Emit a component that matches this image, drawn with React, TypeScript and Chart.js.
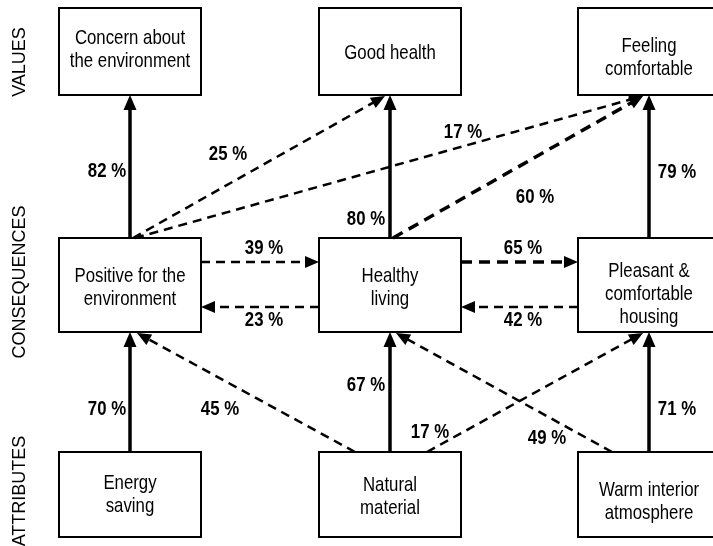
import React, { useEffect, useRef } from "react";
import { Chart, registerables } from "chart.js";

Chart.register(...registerables);

// ---- data ----
const levelLabels = ["VALUES", "CONSEQUENCES", "ATTRIBUTES"];
const nodeNames = [
  "Concern about\nthe environment",
  "Good health",
  "Feeling\ncomfortable",
  "Positive for the\nenvironment",
  "Healthy\nliving",
  "Pleasant &\ncomfortable\nhousing",
  "Energy\nsaving",
  "Natural\nmaterial",
  "Warm interior\natmosphere",
];
const nodeLevel = [0, 0, 0, 1, 1, 1, 2, 2, 2];
const nodeColumn = [0, 1, 2, 0, 1, 2, 0, 1, 2];
const edgeFrom = [3, 3, 3, 4, 4, 5, 3, 4, 4, 5, 6, 7, 7, 7, 8, 8];
const edgeTo = [0, 1, 2, 1, 2, 2, 4, 3, 5, 4, 3, 3, 4, 5, 5, 4];
const edgeValues = [82, 25, 17, 80, 60, 79, 39, 23, 65, 42, 70, 45, 67, 17, 71, 49];

// ---- layout (scale units) ----
const colCenter = [130, 390, 649];
const boxHalfW = 71;
const rowTop = [8, 238, 452];
const rowBottom = [95, 332, 537];
const levelLabelY = [62, 282, 491];
const nodeTextShift = [-4, 0, 4, 1, 1, 7, -2, 0, 5];
const edgeGeom = [
  [130, 238, 130, 95],
  [133, 238, 385, 96],
  [135, 238, 643, 96],
  [390, 238, 390, 95],
  [393, 238, 643, 96],
  [649, 238, 649, 95],
  [201, 262, 319, 262],
  [319, 307, 201, 307],
  [461, 262, 578, 262],
  [578, 307, 461, 307],
  [130, 452, 130, 332],
  [355, 452, 137, 333],
  [390, 452, 390, 332],
  [427, 452, 643, 333],
  [649, 452, 649, 332],
  [612, 452, 396, 333],
];
const edgeStyle = ["s", "d", "d", "s", "D", "s", "d", "d", "D", "d", "s", "d", "s", "d", "s", "d"];
const labelPos = [
  [107, 169.5], [228, 152], [463, 130], [366, 217], [535, 195.5], [677, 170.5],
  [264, 246], [264, 318], [523, 246], [523, 318],
  [107, 407], [220, 407], [366, 383], [430, 430], [677, 407], [547, 436],
];

const FONT = '"Liberation Sans", Arial, sans-serif';
const NARROW_X = 0.8;

function narrowText(ctx: CanvasRenderingContext2D, text: string, x: number, y: number) {
  ctx.save();
  ctx.translate(x, y);
  ctx.scale(NARROW_X, 1);
  ctx.fillText(text, 0, 0);
  ctx.restore();
}

const diagramPlugin = {
  id: "diagram",
  afterDraw(chart: any) {
    const ctx = chart.ctx as CanvasRenderingContext2D;
    const xs = chart.scales.x;
    const ys = chart.scales.y;
    const X = (v: number) => xs.getPixelForValue(v);
    const Y = (v: number) => ys.getPixelForValue(v);
    ctx.save();

    ctx.strokeStyle = "#000";
    ctx.fillStyle = "#000";
    for (let i = 0; i < nodeNames.length; i++) {
      const cx = colCenter[nodeColumn[i]];
      const t = rowTop[nodeLevel[i]];
      const b = rowBottom[nodeLevel[i]];
      ctx.lineWidth = 2;
      ctx.setLineDash([]);
      ctx.strokeRect(X(cx - boxHalfW), Y(t), X(cx + boxHalfW) - X(cx - boxHalfW), Y(b) - Y(t));
      const lines = nodeNames[i].split("\n");
      ctx.font = `21px ${FONT}`;
      ctx.textAlign = "center";
      ctx.textBaseline = "alphabetic";
      const mid = (t + b) / 2 + nodeTextShift[i];
      const lh = 23;
      lines.forEach((ln, k) => {
        const yy = mid + (k - (lines.length - 1) / 2) * lh + 7.5;
        narrowText(ctx, ln, X(cx), Y(yy));
      });
    }

    for (let i = 0; i < edgeValues.length; i++) {
      const [x1, y1, x2, y2] = edgeGeom[i];
      const st = edgeStyle[i];
      const px1 = X(x1), py1 = Y(y1), px2 = X(x2), py2 = Y(y2);
      const dx = px2 - px1, dy = py2 - py1;
      const len = Math.hypot(dx, dy);
      const ux = dx / len, uy = dy / len;
      const hl = st === "s" ? 15 : 14;
      const hw = st === "s" ? 6.5 : 6;
      const bx = px2 - ux * hl, by = py2 - uy * hl;
      ctx.lineWidth = st === "d" ? 2.5 : 3.5;
      ctx.setLineDash(st === "s" ? [] : st === "D" ? [11, 7] : [9, 6]);
      ctx.beginPath();
      ctx.moveTo(px1, py1);
      ctx.lineTo(bx + ux, by + uy);
      ctx.stroke();
      ctx.setLineDash([]);
      ctx.beginPath();
      ctx.moveTo(px2, py2);
      ctx.lineTo(bx - uy * hw, by + ux * hw);
      ctx.lineTo(bx + uy * hw, by - ux * hw);
      ctx.closePath();
      ctx.fill();
      ctx.font = `bold 21px ${FONT}`;
      ctx.textAlign = "center";
      ctx.textBaseline = "alphabetic";
      const [lx, ly] = labelPos[i];
      narrowText(ctx, `${edgeValues[i]} %`, X(lx), Y(ly + 7.5));
    }

    ctx.font = `18px ${FONT}`;
    ctx.textAlign = "center";
    ctx.textBaseline = "alphabetic";
    levelLabels.forEach((lab, i) => {
      ctx.save();
      ctx.translate(X(25), Y(levelLabelY[i]));
      ctx.rotate(-Math.PI / 2);
      ctx.fillText(lab, 0, 0);
      ctx.restore();
    });

    ctx.restore();
  },
};

export default function App() {
  const ref = useRef<HTMLCanvasElement | null>(null);
  useEffect(() => {
    if (!ref.current) return;
    const chart = new Chart(ref.current, {
      type: "scatter",
      data: {
        datasets: [
          {
            data: nodeNames.map((_, i) => ({
              x: colCenter[nodeColumn[i]],
              y: (rowTop[nodeLevel[i]] + rowBottom[nodeLevel[i]]) / 2,
            })),
            pointRadius: 0,
          },
        ],
      },
      options: {
        animation: false,
        responsive: false,
        layout: { padding: 0 },
        plugins: { legend: { display: false }, tooltip: { enabled: false } },
        scales: {
          x: { type: "linear", min: 0, max: 713, display: false },
          y: { type: "linear", min: 0, max: 546, reverse: true, display: false },
        },
      },
      plugins: [diagramPlugin],
    });
    return () => chart.destroy();
  }, []);
  return (
    <div style={{ position: "fixed", left: 0, top: 0, width: 713, height: 546, background: "#fff" }}>
      <canvas ref={ref} width={713} height={546} />
    </div>
  );
}
